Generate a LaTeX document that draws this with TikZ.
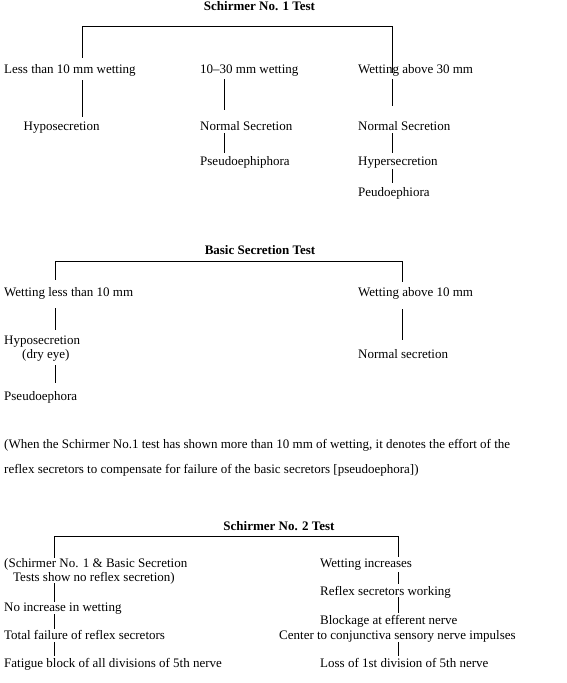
\documentclass[tikz,border=0pt]{standalone}
\usepackage{fontspec}
\setmainfont{Liberation Serif}
\usetikzlibrary{calc}
\begin{document}
\begin{tikzpicture}[x=1pt,y=-1pt,
  lbl/.style={inner sep=0pt, anchor=west, font=\fontsize{13}{15}\selectfont, text height=9pt, text depth=3pt},
  ttl/.style={inner sep=0pt, anchor=center, font=\fontsize{13}{15}\selectfont\bfseries, text height=9pt, text depth=3pt},
  link/.style={line width=0.9pt, black}]
\useasboundingbox (0,0) rectangle (566,683);
\fill[white] (0,0) rectangle (566,683);

% ---------- Schirmer No. 1 Test
\node[ttl] (t1) at (259.5,7) {Schirmer No. 1 Test};
\coordinate (L1) at (82,26);
\coordinate (R1) at (392,26);
\coordinate (M1) at (224,26);
\node[lbl] (a1) at (4,70) {Less than 10 mm wetting};
\node[lbl] (b1) at (200,70) {10--30 mm wetting};
\node[lbl] (c1) at (358,70) {Wetting above 30 mm};
\node[lbl] (a2) at (23.5,127) {Hyposecretion};
\node[lbl] (b2) at (200,127) {Normal Secretion};
\node[lbl] (b3) at (200,162) {Pseudoephiphora};
\node[lbl] (c2) at (358,127) {Normal Secretion};
\node[lbl] (c3) at (358,162) {Hypersecretion};
\node[lbl] (c4) at (358,193) {Peudoephiora};
\draw[link] ($(a1.north -| L1)+(0,-6)$) -- (L1) -- (R1) -- ($(c1.south -| R1)+(0,-3)$);
\draw[link] ($(a1.south -| L1)+(0,4)$) -- ($(a2.north -| L1)+(0,-4)$);
\draw[link] ($(b1.south -| M1)+(0,3)$) -- ($(b2.north -| M1)+(0,-11)$);
\draw[link] (b2.south -| M1) -- ($(b3.north -| M1)+(0,-3)$);
\draw[link] ($(c1.south -| R1)+(0,3)$) -- ($(c2.north -| R1)+(0,-15)$);
\draw[link] (c2.south -| R1) -- ($(c3.north -| R1)+(0,-3)$);
\draw[link] ($(c3.south -| R1)+(0,1)$) -- ($(c4.north -| R1)+(0,-4)$);

% ---------- Basic Secretion Test
\node[ttl] (t2) at (260,251) {Basic Secretion Test};
\coordinate (L2) at (55,261);
\coordinate (R2) at (402,261);
\node[lbl] (d1) at (4,293) {Wetting less than 10 mm};
\node[lbl] (e1) at (358,293) {Wetting above 10 mm};
\node[lbl] (d2) at (4,341) {Hyposecretion};
\node[lbl] (d2b) at (22,355) {(dry eye)};
\node[lbl] (d3) at (4,397) {Pseudoephora};
\node[lbl] (e2) at (358,355) {Normal secretion};
\draw[link] ($(d1.north -| L2)+(0,-7)$) -- (L2) -- (R2) -- ($(e1.north -| R2)+(0,-5)$);
\draw[link] ($(d1.south -| L2)+(0,9)$) -- ($(d2.north -| L2)+(0,-5)$);
\draw[link] ($(d2b.south -| L2)+(0,4)$) -- ($(d3.north -| L2)+(0,-8)$);
\draw[link] ($(e1.south -| R2)+(0,10)$) -- ($(e2.north -| R2)+(0,-9)$);

% ---------- note
\node[lbl] (p1) at (4,445) {(When the Schirmer No.1 test has shown more than 10 mm of wetting, it denotes the effort of the};
\node[lbl] (p2) at (4,470) {reflex secretors to compensate for failure of the basic secretors [pseudoephora])};

% ---------- Schirmer No. 2 Test
\node[ttl] (t3) at (279,527) {Schirmer No. 2 Test};
\coordinate (L3) at (54,536);
\coordinate (R3) at (398,536);
\node[lbl] (f1) at (4,564) {(Schirmer No. 1 \& Basic Secretion};
\node[lbl] (f1b) at (13,578) {Tests show no reflex secretion)};
\node[lbl] (f2) at (4,608) {No increase in wetting};
\node[lbl] (f3) at (4,636) {Total failure of reflex secretors};
\node[lbl] (f4) at (4,664) {Fatigue block of all divisions of 5th nerve};
\node[lbl] (g1) at (320,564) {Wetting increases};
\node[lbl] (g2) at (320,592) {Reflex secretors working};
\node[lbl] (g3) at (320,621) {Blockage at efferent nerve};
\node[lbl] (g4) at (279,636) {Center to conjunctiva sensory nerve impulses};
\node[lbl] (g5) at (320,664) {Loss of 1st division of 5th nerve};
\draw[link] (f1.north -| L3) -- (L3) -- (R3) -- ($(g1.north -| R3)+(0,-1)$);
\draw[link] ($(f1b.south -| L3)+(0,-1)$) -- (f2.north -| L3);
\draw[link] (f2.south -| L3) -- ($(f3.north -| L3)+(0,-1)$);
\draw[link] (f3.south -| L3) -- ($(f4.north -| L3)+(0,-2)$);
\draw[link] ($(g1.south -| R3)+(0,2)$) -- ($(g2.north -| R3)+(0,-2)$);
\draw[link] ($(g2.south -| R3)+(0,-1)$) -- ($(g3.north -| R3)+(0,-2)$);
\draw[link] (g4.south -| R3) -- ($(g5.north -| R3)+(0,-2)$);
\end{tikzpicture}
\end{document}
